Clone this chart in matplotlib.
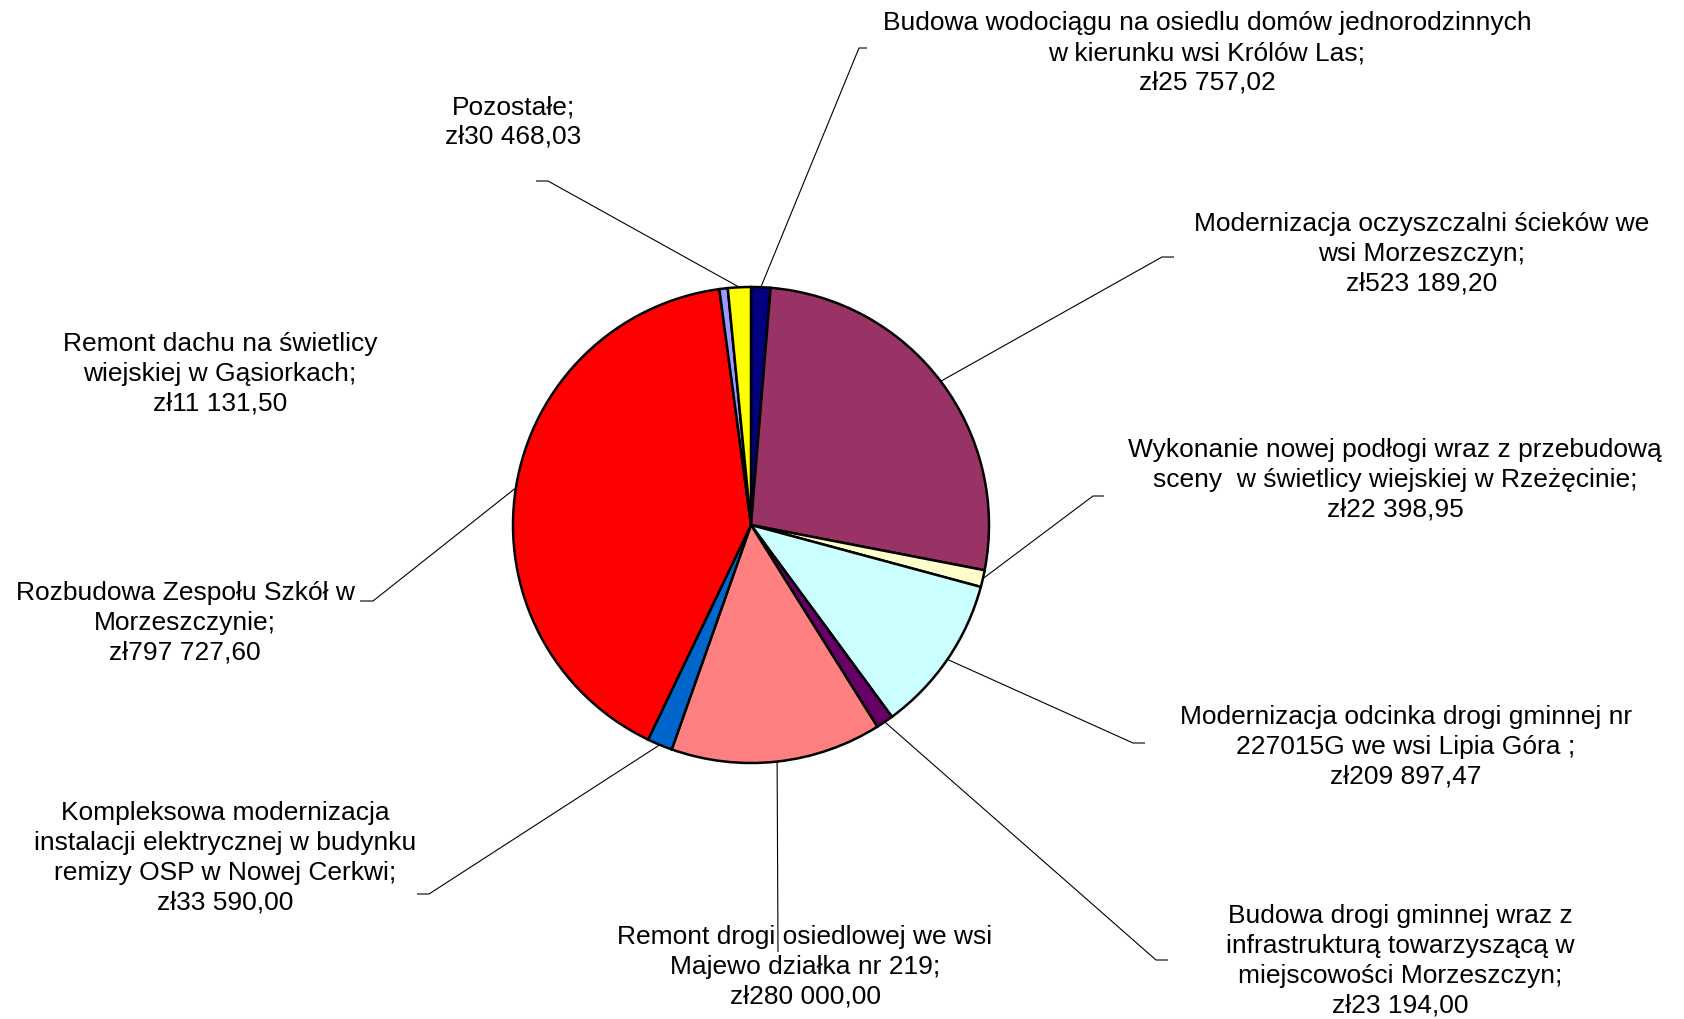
import matplotlib
matplotlib.use("Agg")
import matplotlib.pyplot as plt
import numpy as np

plt.rcParams['font.family'] = ['Liberation Sans', 'DejaVu Sans']

# data ---------------->
names = [
    "Budowa wodociągu na osiedlu domów jednorodzinnych\nw kierunku wsi Królów Las;",
    "Modernizacja oczyszczalni ścieków we\nwsi Morzeszczyn;",
    "Wykonanie nowej podłogi wraz z przebudową\nsceny  w świetlicy wiejskiej w Rzeżęcinie;",
    "Modernizacja odcinka drogi gminnej nr\n227015G we wsi Lipia Góra ;",
    "Budowa drogi gminnej wraz z\ninfrastrukturą towarzyszącą w\nmiejscowości Morzeszczyn;",
    "Remont drogi osiedlowej we wsi\nMajewo działka nr 219;",
    "Kompleksowa modernizacja\ninstalacji elektrycznej w budynku\nremizy OSP w Nowej Cerkwi;",
    "Rozbudowa Zespołu Szkół w\nMorzeszczynie;",
    "Remont dachu na świetlicy\nwiejskiej w Gąsiorkach;",
    "Pozostałe;",
]
values = [25757.02, 523189.20, 22398.95, 209897.47, 23194.00,
          280000.00, 33590.00, 797727.60, 11131.50, 30468.03]
colors = ["#000080", "#993366", "#FFFFCC", "#CCFFFF", "#660066",
          "#FF8080", "#0066CC", "#FF0000", "#9999FF", "#FFFF00"]

# layout (pixels from top-left) ---------------->
W, H = 1684, 1020
cx, cy, r = 751, 526, 238
text_pos = [(1207, 53), (1422, 254), (1395, 480), (1406, 747), (1400, 961),
            (805, 967), (225, 858), (185, 623), (220, 374), (513, 122)]
# elbow and end of leader lines, None = no leader
leaders = [((859, 49), (867, 49)), ((1162, 258), (1174, 258)),
           ((1093, 497), (1104, 497)), ((1133, 744), (1145, 744)),
           ((1156, 961), (1168, 961)), ((778, 953), (778, 953)),
           ((429, 895), (417, 895)), ((373, 602), (360, 602)),
           None, ((548, 182), (536, 182))]


def money(v):
    s = f"{v:,.2f}".replace(",", " ").replace(".", ",")
    return "zł" + s


fig = plt.figure(figsize=(W / 100, H / 100), dpi=100)
ax = fig.add_axes([0, 0, 1, 1])

wedges, _ = ax.pie(values, colors=colors, startangle=90, counterclock=False,
                   center=(cx, H - cy), radius=r,
                   wedgeprops=dict(edgecolor="black", linewidth=1.8))

for w, name, v, pos, ld in zip(wedges, names, values, text_pos, leaders):
    ax.text(pos[0], H - pos[1], name + "\n" + money(v), ha="center",
            va="center", multialignment="center", fontsize=19,
            linespacing=1.3, color="black")
    if ld is None:
        continue
    a = np.deg2rad((w.theta1 + w.theta2) / 2)
    sx, sy = cx + r * np.cos(a), (H - cy) + r * np.sin(a)
    (ex, ey), (fx, fy) = ld
    ax.plot([sx, ex, fx], [sy, H - ey, H - fy], color="black", lw=0.8,
            solid_capstyle="butt")

ax.set_xlim(0, W)
ax.set_ylim(0, H)
ax.set_axis_off()

fig.savefig("out.png", dpi=100, facecolor="white")
